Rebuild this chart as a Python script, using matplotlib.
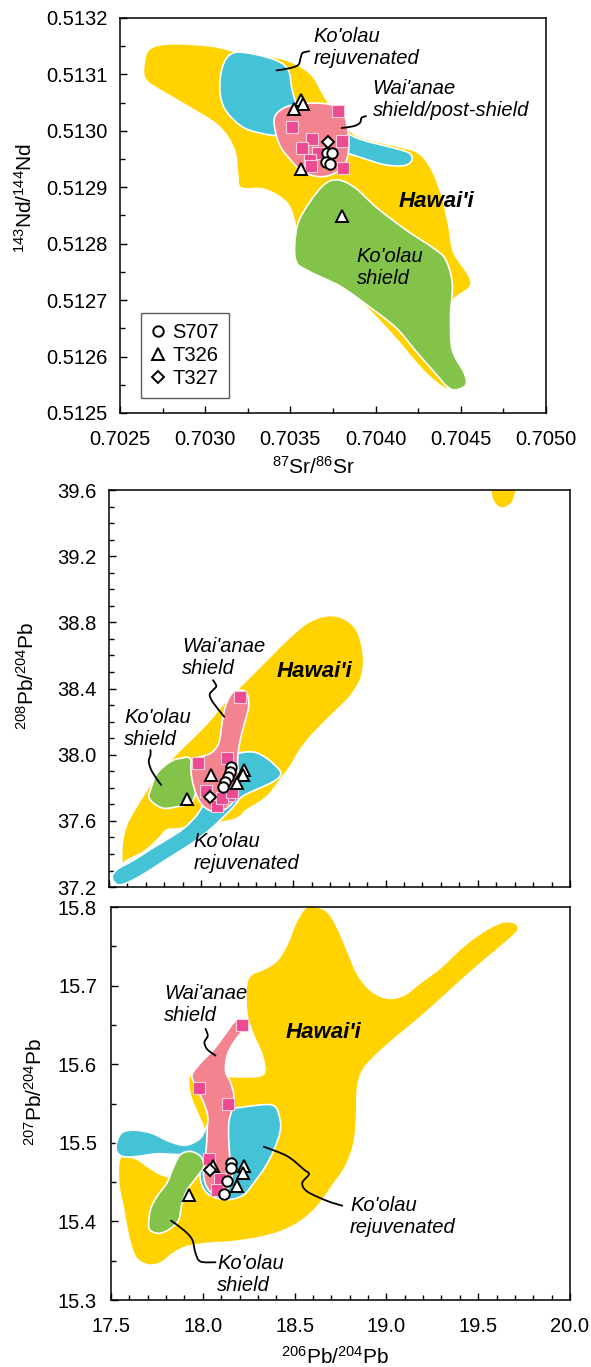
import numpy as np
import matplotlib
matplotlib.use("Agg")
import matplotlib.pyplot as plt
from matplotlib.path import Path
from matplotlib.patches import PathPatch
from matplotlib.lines import Line2D
from matplotlib.ticker import MultipleLocator, FormatStrFormatter

plt.rcParams["font.family"] = ["Liberation Sans", "DejaVu Sans"]
plt.rcParams["mathtext.fontset"] = "custom"
plt.rcParams["mathtext.rm"] = "Liberation Sans"
plt.rcParams["mathtext.default"] = "regular"

YELLOW = "#FFD200"
BLUE = "#44C3D7"
GREEN = "#84C34A"
PINK = "#F2838F"
PINK_SQ = "#EC4A92"

# ---------------- Sr-Nd panel ----------------
sr_haw_x = [0.70264, 0.70267, 0.70279, 0.70304, 0.70321, 0.70343, 0.70354, 0.70363, 0.70370, 0.70379,
            0.70390, 0.70412, 0.70425, 0.70433, 0.70439, 0.70443, 0.70446, 0.70455, 0.70455, 0.70446,
            0.70443, 0.70444, 0.70448, 0.70452, 0.70445, 0.70440, 0.70428, 0.70408, 0.70388, 0.70366,
            0.70354, 0.70353, 0.70348, 0.70335, 0.70321, 0.70319, 0.70317, 0.70308, 0.70290, 0.70273,
            0.70265]
sr_haw_y = [0.513114, 0.513144, 0.513154, 0.513150, 0.513138, 0.513129, 0.513117, 0.513097, 0.513061, 0.513020,
            0.512990, 0.512973, 0.512961, 0.512931, 0.512884, 0.512831, 0.512784, 0.512742, 0.512722, 0.512701,
            0.512665, 0.512612, 0.512577, 0.512553, 0.512545, 0.512545, 0.512575, 0.512645, 0.512705, 0.512745,
            0.512784, 0.512831, 0.512872, 0.512896, 0.512899, 0.512925, 0.512967, 0.513008, 0.513043, 0.513073,
            0.513091]
sr_rej_x = [0.70309, 0.70312, 0.70318, 0.70330, 0.70343, 0.70349, 0.70351, 0.70354, 0.70357, 0.70379,
            0.70392, 0.70410, 0.70420, 0.70421, 0.70416, 0.70405, 0.70392, 0.70383, 0.70368, 0.70348,
            0.70337, 0.70323, 0.70313, 0.70309]
sr_rej_y = [0.513097, 0.513126, 0.513139, 0.513135, 0.513123, 0.513106, 0.513073, 0.513043, 0.513038, 0.513002,
            0.512984, 0.512970, 0.512960, 0.512946, 0.512938, 0.512940, 0.512952, 0.512961, 0.512978, 0.512990,
            0.512993, 0.513005, 0.513032, 0.513061]
sr_wai_x = [0.70341, 0.70341, 0.70348, 0.70361, 0.70374, 0.70381, 0.70384, 0.70384, 0.70381, 0.70374,
            0.70366, 0.70357, 0.70350, 0.70344]
sr_wai_y = [0.513002, 0.513026, 0.513043, 0.513049, 0.513046, 0.513032, 0.512996, 0.512961, 0.512937, 0.512922,
            0.512919, 0.512928, 0.512949, 0.512973]
sr_shd_x = [0.70354, 0.70361, 0.70370, 0.70378, 0.70388, 0.70401, 0.70419, 0.70434, 0.70441, 0.70445,
            0.70444, 0.70445, 0.70452, 0.70453, 0.70447, 0.70442, 0.70434, 0.70423, 0.70412, 0.70396,
            0.70379, 0.70361, 0.70353]
sr_shd_y = [0.512831, 0.512872, 0.512905, 0.512913, 0.512899, 0.512863, 0.512822, 0.512792, 0.512772, 0.512730,
            0.512671, 0.512612, 0.512571, 0.512550, 0.512541, 0.512547, 0.512574, 0.512612, 0.512651, 0.512689,
            0.512725, 0.512751, 0.512772]

sr_sq_x = [0.703777, 0.703511, 0.703629, 0.703803, 0.703570, 0.703660, 0.703615, 0.703621, 0.703811]
sr_sq_y = [0.513035, 0.513006, 0.512986, 0.512982, 0.512970, 0.512960, 0.512949, 0.512937, 0.512934]
sr_s707_x = [0.703713, 0.703746, 0.703709, 0.703732]
sr_s707_y = [0.512960, 0.512961, 0.512944, 0.512942]
sr_t326_x = [0.703562, 0.703572, 0.703519, 0.703560, 0.703803]
sr_t326_y = [0.513055, 0.513048, 0.513039, 0.512932, 0.512849]
sr_t327_x = [0.703723]
sr_t327_y = [0.512980]

sr_lead_rej_x = [0.703419, 0.703498, 0.703547, 0.703560, 0.703572, 0.703611]
sr_lead_rej_y = [0.513107, 0.513111, 0.513117, 0.513129, 0.513138, 0.513141]
sr_lead_wai_x = [0.703801, 0.703869, 0.703908, 0.703918, 0.703944]
sr_lead_wai_y = [0.513005, 0.513008, 0.513014, 0.513023, 0.513026]

# ---------------- 208Pb panel ----------------
p8_haw_x = [17.572, 17.572, 17.599, 17.671, 17.743, 17.833, 17.924, 18.032, 18.140, 18.266,
            18.392, 18.464, 18.572, 18.681, 18.771, 18.843, 18.879, 18.870, 18.807, 18.717,
            18.609, 18.536, 18.482, 18.428, 18.356, 18.248, 18.167, 17.888, 17.815, 17.761,
            17.689, 17.599]
p8_haw_y = [37.343, 37.464, 37.585, 37.726, 37.847, 37.968, 38.069, 38.189, 38.330, 38.472,
            38.613, 38.693, 38.794, 38.840, 38.824, 38.754, 38.613, 38.472, 38.351, 38.250,
            38.129, 38.028, 37.927, 37.847, 37.746, 37.666, 37.605, 37.555, 37.545, 37.484,
            37.414, 37.363]
p8_blob_x = [19.578, 19.578, 19.609, 19.645, 19.686, 19.704, 19.708, 19.640]
p8_blob_y = [39.620, 39.550, 39.499, 39.493, 39.523, 39.580, 39.620, 39.660]
p8_rej_x = [18.194, 18.284, 18.356, 18.425, 18.425, 18.374, 18.284, 18.221, 18.176, 18.122,
            18.050, 17.960, 17.870, 17.779, 17.689, 17.599, 17.545, 17.518, 17.545, 17.635,
            17.734, 17.824, 17.906, 17.969, 18.005, 18.032, 18.104, 18.158]
p8_rej_y = [38.004, 38.016, 37.978, 37.907, 37.867, 37.827, 37.782, 37.746, 37.686, 37.625,
            37.550, 37.472, 37.408, 37.343, 37.279, 37.226, 37.215, 37.258, 37.307, 37.363,
            37.434, 37.494, 37.555, 37.625, 37.686, 37.766, 37.867, 37.948]
p8_wai_x = [18.212, 18.248, 18.257, 18.230, 18.208, 18.198, 18.203, 18.194, 18.167, 18.122,
            18.068, 18.014, 17.978, 17.951, 17.945, 17.969, 18.050, 18.095, 18.113, 18.131,
            18.167]
p8_wai_y = [38.391, 38.371, 38.290, 38.169, 38.069, 37.968, 37.847, 37.766, 37.706, 37.666,
            37.656, 37.686, 37.746, 37.847, 37.948, 37.978, 38.008, 38.069, 38.189, 38.290,
            38.371]
p8_shd_x = [17.725, 17.761, 17.833, 17.888, 17.942, 17.978, 17.969, 17.942, 17.870, 17.797,
            17.743, 17.716]
p8_shd_y = [37.786, 37.887, 37.958, 37.978, 37.974, 37.847, 37.766, 37.706, 37.686, 37.676,
            37.706, 37.746]

p8_sq_x = [18.212, 18.140, 17.981, 18.028, 18.149, 18.086, 18.113, 18.167]
p8_sq_y = [38.347, 37.982, 37.948, 37.780, 37.756, 37.690, 37.736, 37.776]
p8_s707_x = [18.162, 18.154, 18.143, 18.131, 18.118]
p8_s707_y = [37.927, 37.897, 37.867, 37.837, 37.807]
p8_t326_x = [18.055, 18.230, 18.225, 18.194, 17.924]
p8_t326_y = [37.877, 37.907, 37.877, 37.827, 37.730]
p8_t327_x = [18.046]
p8_t327_y = [37.746]

p8_lead_wai_x = [18.125, 18.068, 18.046, 18.064, 18.082, 18.064]
p8_lead_wai_y = [38.230, 38.310, 38.361, 38.391, 38.415, 38.451]
p8_lead_shd_x = [17.783, 17.734, 17.716, 17.725, 17.725]
p8_lead_shd_y = [37.817, 37.897, 37.958, 37.998, 38.028]

# ---------------- 207Pb panel ----------------
p7_haw_x = [17.551, 17.633, 17.705, 17.778, 17.851, 17.933, 17.987, 18.005, 17.978, 17.933,
            17.924, 17.960, 18.060, 18.187, 18.329, 18.324, 18.278, 18.242, 18.236, 18.260,
            18.333, 18.405, 18.460, 18.505, 18.555, 18.605, 18.678, 18.733, 18.787, 18.842,
            18.915, 19.005, 19.096, 19.187, 19.296, 19.424, 19.551, 19.642, 19.705, 19.715,
            19.660, 19.533, 19.405, 19.278, 19.151, 19.042, 18.933, 18.869, 18.842, 18.838,
            18.824, 18.778, 18.705, 18.624, 18.533, 18.424, 18.296, 18.151, 18.024, 17.915,
            17.842, 17.769, 17.696, 17.633, 17.596, 17.569, 17.542]
p7_haw_y = [15.481, 15.480, 15.469, 15.459, 15.457, 15.470, 15.487, 15.517, 15.534, 15.560,
            15.583, 15.589, 15.587, 15.584, 15.587, 15.611, 15.636, 15.662, 15.696, 15.713,
            15.721, 15.732, 15.753, 15.779, 15.798, 15.801, 15.794, 15.774, 15.745, 15.715,
            15.694, 15.684, 15.688, 15.704, 15.723, 15.751, 15.772, 15.781, 15.779, 15.770,
            15.757, 15.732, 15.706, 15.679, 15.653, 15.632, 15.609, 15.591, 15.568, 15.534,
            15.500, 15.470, 15.445, 15.419, 15.400, 15.387, 15.379, 15.374, 15.372, 15.368,
            15.360, 15.347, 15.345, 15.355, 15.381, 15.415, 15.449]
p7_rej_x = [17.529, 17.560, 17.633, 17.724, 17.815, 17.905, 17.987, 18.033, 18.096, 18.205,
            18.378, 18.420, 18.420, 18.387, 18.342, 18.278, 18.224, 18.151, 18.069, 18.015,
            17.987, 17.984, 17.951, 17.860, 17.751, 17.651, 17.578, 17.536]
p7_rej_y = [15.498, 15.513, 15.516, 15.512, 15.502, 15.497, 15.506, 15.526, 15.540, 15.545,
            15.548, 15.530, 15.513, 15.491, 15.470, 15.449, 15.434, 15.428, 15.430, 15.438,
            15.453, 15.474, 15.484, 15.485, 15.486, 15.483, 15.482, 15.487]
p7_wai_x = [18.205, 18.233, 18.224, 18.169, 18.133, 18.124, 18.151, 18.169, 18.160, 18.142,
            18.142, 18.151, 18.160, 18.133, 18.096, 18.060, 18.024, 18.005, 18.009, 18.020,
            18.024, 18.027, 18.005, 17.969, 17.942, 17.951, 18.005, 18.060, 18.115, 18.169]
p7_wai_y = [15.657, 15.653, 15.645, 15.628, 15.611, 15.591, 15.577, 15.560, 15.543, 15.526,
            15.500, 15.474, 15.457, 15.440, 15.434, 15.434, 15.443, 15.457, 15.474, 15.496,
            15.517, 15.534, 15.551, 15.568, 15.583, 15.591, 15.606, 15.619, 15.636, 15.653]
p7_shd_x = [17.705, 17.715, 17.751, 17.805, 17.842, 17.878, 17.933, 17.987, 18.005, 17.969,
            17.915, 17.887, 17.869, 17.824, 17.769, 17.724]
p7_shd_y = [15.394, 15.415, 15.432, 15.449, 15.470, 15.485, 15.489, 15.483, 15.470, 15.457,
            15.440, 15.423, 15.402, 15.391, 15.385, 15.387]

p7_sq_x = [18.211, 17.978, 18.138, 18.033, 18.096, 18.075]
p7_sq_y = [15.650, 15.570, 15.550, 15.480, 15.454, 15.440]
p7_s707_x = [18.155, 18.151, 18.133, 18.118]
p7_s707_y = [15.474, 15.468, 15.451, 15.435]
p7_t326_x = [18.055, 18.227, 18.218, 18.187, 17.924]
p7_t326_y = [15.470, 15.471, 15.462, 15.445, 15.433]
p7_t327_x = [18.042]
p7_t327_y = [15.465]

p7_lead_wai_x = [18.069, 18.024, 18.009, 18.027, 18.015]
p7_lead_wai_y = [15.611, 15.619, 15.628, 15.636, 15.645]
p7_lead_rej_x = [18.333, 18.460, 18.551, 18.578, 18.542, 18.569, 18.678, 18.760]
p7_lead_rej_y = [15.495, 15.483, 15.466, 15.460, 15.449, 15.438, 15.426, 15.420]
p7_lead_shd_x = [17.827, 17.896, 17.942, 17.960, 17.987, 18.069]
p7_lead_shd_y = [15.401, 15.389, 15.377, 15.360, 15.349, 15.348]


def closed_path(xs, ys):
    p = np.column_stack([xs, ys]).astype(float)
    n = len(p)
    verts, codes = [p[0]], [Path.MOVETO]
    for i in range(n):
        a, b, c, d = p[i - 1], p[i], p[(i + 1) % n], p[(i + 2) % n]
        verts += [b + (c - a) / 6, c - (d - b) / 6, c]
        codes += [Path.CURVE4] * 3
    verts.append(p[0])
    codes.append(Path.CLOSEPOLY)
    return Path(verts, codes)


def open_path(xs, ys):
    p = np.column_stack([xs, ys]).astype(float)
    p = np.vstack([p[0], p, p[-1]])
    verts, codes = [p[1]], [Path.MOVETO]
    for i in range(1, len(p) - 2):
        a, b, c, d = p[i - 1], p[i], p[i + 1], p[i + 2]
        verts += [b + (c - a) / 6, c - (d - b) / 6, c]
        codes += [Path.CURVE4] * 3
    return Path(verts, codes)


def region(ax, xs, ys, color, z):
    ax.add_patch(PathPatch(closed_path(xs, ys), facecolor=color,
                           edgecolor="white", lw=1.2, zorder=z))


def leader(ax, xs, ys):
    ax.add_patch(PathPatch(open_path(xs, ys), fill=False, edgecolor="black",
                           lw=1.3, zorder=5, capstyle="round"))


def samples(ax, sq, s707, t326, t327):
    ax.plot(sq[0], sq[1], ls="none", marker="s", ms=8.5, mfc=PINK_SQ,
            mec="#FAD0E0", mew=0.8, zorder=6)
    ax.plot(s707[0], s707[1], ls="none", marker="o", ms=7.5, mfc="white",
            mec="black", mew=1.4, zorder=7)
    ax.plot(t326[0], t326[1], ls="none", marker="^", ms=9, mfc="white",
            mec="black", mew=1.4, zorder=7)
    ax.plot(t327[0], t327[1], ls="none", marker="D", ms=6.5, mfc="white",
            mec="black", mew=1.4, zorder=7)


def label(ax, x, y, s, size=14.5, weight="normal"):
    ax.text(x, y, s, style="italic", fontsize=size, fontweight=weight,
            ha="left", va="center", linespacing=1.2, zorder=8)


def style(ax):
    ax.tick_params(which="both", direction="in", top=False, right=False,
                   labelsize=14.5, width=1.0)
    ax.tick_params(which="major", length=5)
    ax.tick_params(which="minor", length=3.5)
    for s in ax.spines.values():
        s.set_linewidth(1.1)


fig = plt.figure(figsize=(5.91, 13.67), dpi=100)

# Sr-Nd
ax1 = fig.add_axes([0.2030, 0.6979, 0.7208, 0.2890])
region(ax1, sr_haw_x, sr_haw_y, YELLOW, 1)
region(ax1, sr_rej_x, sr_rej_y, BLUE, 2)
region(ax1, sr_shd_x, sr_shd_y, GREEN, 3)
region(ax1, sr_wai_x, sr_wai_y, PINK, 4)
leader(ax1, sr_lead_rej_x, sr_lead_rej_y)
leader(ax1, sr_lead_wai_x, sr_lead_wai_y)
samples(ax1, (sr_sq_x, sr_sq_y), (sr_s707_x, sr_s707_y),
        (sr_t326_x, sr_t326_y), (sr_t327_x, sr_t327_y))
label(ax1, 0.703635, 0.513147, "Ko'olau\nrejuvenated")
label(ax1, 0.703983, 0.513055, "Wai'anae\nshield/post-shield")
label(ax1, 0.704133, 0.512875, "Hawai'i", 16, "bold")
label(ax1, 0.703889, 0.512757, "Ko'olau\nshield")
ax1.set_xlim(0.7025, 0.7050)
ax1.set_ylim(0.5125, 0.5132)
ax1.xaxis.set_major_locator(MultipleLocator(0.0005))
ax1.xaxis.set_minor_locator(MultipleLocator(0.00025))
ax1.yaxis.set_major_locator(MultipleLocator(0.0001))
ax1.yaxis.set_minor_locator(MultipleLocator(0.00005))
ax1.xaxis.set_major_formatter(FormatStrFormatter("%.4f"))
ax1.yaxis.set_major_formatter(FormatStrFormatter("%.4f"))
style(ax1)
ax1.tick_params(axis="x", pad=12)
ax1.tick_params(axis="y", pad=9)
ax1.set_xlabel(r"$^{87}$Sr/$^{86}$Sr", fontsize=15, va="center")
ax1.xaxis.set_label_coords(0.455, -0.137)
ax1.set_ylabel(r"$^{143}$Nd/$^{144}$Nd", fontsize=15, va="center")
ax1.yaxis.set_label_coords(-0.223, 0.544)
handles = [
    Line2D([], [], ls="none", marker="o", ms=7.5, mfc="white", mec="black", mew=1.4),
    Line2D([], [], ls="none", marker="^", ms=9, mfc="white", mec="black", mew=1.4),
    Line2D([], [], ls="none", marker="D", ms=6.5, mfc="white", mec="black", mew=1.4),
]
leg = ax1.legend(handles, ["S707", "T326", "T327"], loc="lower left",
                 bbox_to_anchor=(0.049, 0.038), borderaxespad=0, fancybox=False,
                 edgecolor="#333333", fontsize=14.5, handlelength=0.7,
                 handletextpad=0.35, labelspacing=0.2, borderpad=0.5)
leg.get_frame().set_linewidth(1.0)

# 208Pb/204Pb
ax2 = fig.add_axes([0.1844, 0.3511, 0.7800, 0.2904])
region(ax2, p8_haw_x, p8_haw_y, YELLOW, 1)
region(ax2, p8_blob_x, p8_blob_y, YELLOW, 1)
region(ax2, p8_rej_x, p8_rej_y, BLUE, 2)
region(ax2, p8_shd_x, p8_shd_y, GREEN, 3)
region(ax2, p8_wai_x, p8_wai_y, PINK, 4)
leader(ax2, p8_lead_wai_x, p8_lead_wai_y)
leader(ax2, p8_lead_shd_x, p8_lead_shd_y)
samples(ax2, (p8_sq_x, p8_sq_y), (p8_s707_x, p8_s707_y),
        (p8_t326_x, p8_t326_y), (p8_t327_x, p8_t327_y))
label(ax2, 17.897, 38.588, "Wai'anae\nshield")
label(ax2, 17.581, 38.158, "Ko'olau\nshield")
label(ax2, 18.410, 38.502, "Hawai'i", 16, "bold")
label(ax2, 17.960, 37.410, "Ko'olau\nrejuvenated")
ax2.set_xlim(17.5, 20.0)
ax2.set_ylim(37.2, 39.6)
ax2.xaxis.set_major_locator(MultipleLocator(0.5))
ax2.xaxis.set_minor_locator(MultipleLocator(0.1))
ax2.yaxis.set_major_locator(MultipleLocator(0.4))
ax2.yaxis.set_minor_locator(MultipleLocator(0.1))
ax2.yaxis.set_major_formatter(FormatStrFormatter("%.1f"))
style(ax2)
ax2.tick_params(axis="x", labelbottom=False)
ax2.tick_params(axis="y", pad=9)
ax2.set_ylabel(r"$^{208}$Pb/$^{204}$Pb", fontsize=15, va="center")
ax2.yaxis.set_label_coords(-0.178, 0.531)

# 207Pb/204Pb
ax3 = fig.add_axes([0.1878, 0.0490, 0.7766, 0.2875])
region(ax3, p7_haw_x, p7_haw_y, YELLOW, 1)
region(ax3, p7_rej_x, p7_rej_y, BLUE, 2)
region(ax3, p7_shd_x, p7_shd_y, GREEN, 3)
region(ax3, p7_wai_x, p7_wai_y, PINK, 4)
leader(ax3, p7_lead_wai_x, p7_lead_wai_y)
leader(ax3, p7_lead_rej_x, p7_lead_rej_y)
leader(ax3, p7_lead_shd_x, p7_lead_shd_y)
samples(ax3, (p7_sq_x, p7_sq_y), (p7_s707_x, p7_s707_y),
        (p7_t326_x, p7_t326_y), (p7_t327_x, p7_t327_y))
label(ax3, 17.791, 15.6755, "Wai'anae\nshield")
label(ax3, 18.451, 15.640, "Hawai'i", 16, "bold")
label(ax3, 18.802, 15.406, "Ko'olau\nrejuvenated")
label(ax3, 18.078, 15.333, "Ko'olau\nshield")
ax3.set_xlim(17.5, 20.0)
ax3.set_ylim(15.3, 15.8)
ax3.xaxis.set_major_locator(MultipleLocator(0.5))
ax3.xaxis.set_minor_locator(MultipleLocator(0.1))
ax3.yaxis.set_major_locator(MultipleLocator(0.1))
ax3.yaxis.set_minor_locator(MultipleLocator(0.05))
ax3.xaxis.set_major_formatter(FormatStrFormatter("%.1f"))
ax3.yaxis.set_major_formatter(FormatStrFormatter("%.1f"))
style(ax3)
ax3.tick_params(axis="x", pad=12)
ax3.tick_params(axis="y", pad=10)
ax3.set_xlabel(r"$^{206}$Pb/$^{204}$Pb", fontsize=15, va="center")
ax3.xaxis.set_label_coords(0.489, -0.145)
ax3.set_ylabel(r"$^{207}$Pb/$^{204}$Pb", fontsize=15, va="center")
ax3.yaxis.set_label_coords(-0.166, 0.529)

fig.savefig("out.png", dpi=100)
